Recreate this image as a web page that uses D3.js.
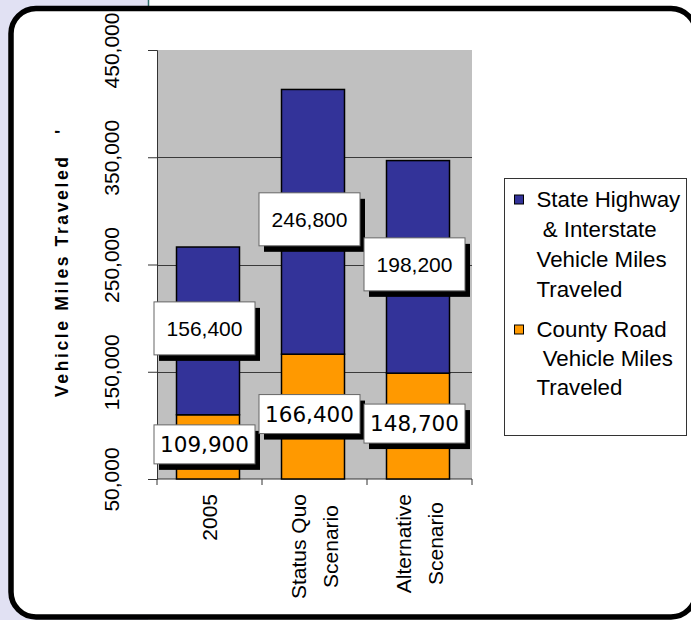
<!DOCTYPE html>
<html>
<head>
<meta charset="utf-8">
<script src="https://cdn.jsdelivr.net/npm/d3@7"></script>
<style>
  html, body { margin: 0; padding: 0; background: #ffffff; }
  svg { display: block; }
</style>
</head>
<body>
<svg id="chart" width="691" height="620"></svg>
<script>
// ---- data ----
const categories = ["2005", "Status Quo Scenario", "Alternative Scenario"];
const categoryLines = [["2005"], ["Status Quo", "Scenario"], ["Alternative", "Scenario"]];
const countyRoadVMT = [109900, 166400, 148700];
const stateHighwayVMT = [156400, 246800, 198200];
const yTicks = [50000, 150000, 250000, 350000, 450000];
const gridTicks = [150000, 250000, 350000];
const seriesNames = ["State Highway & Interstate Vehicle Miles Traveled", "County Road Vehicle Miles Traveled"];
const legendLines = [["State Highway", " & Interstate", "Vehicle Miles", "Traveled"], ["County Road", " Vehicle Miles", "Traveled"]];
const yTitle = "Vehicle Miles Traveled";

const colors = { highway: "#333399", county: "#FF9900", plot: "#C0C0C0", grid: "#3a3a3a" };
const svg = d3.select("#chart");

// ---- page background / frame ----
svg.append("rect").attr("x", 0).attr("y", 0).attr("width", 148).attr("height", 620).attr("fill", "#E1E1F3");
svg.append("line").attr("x1", 148.5).attr("x2", 148.5).attr("y1", 0).attr("y2", 8).attr("stroke", "#2F6F6A").attr("stroke-width", 1.5);
svg.append("rect").attr("x", 11).attr("y", 8.5).attr("width", 685).attr("height", 608.5)
  .attr("rx", 25).attr("ry", 25).attr("fill", "#ffffff").attr("stroke", "#000").attr("stroke-width", 5.5);

// ---- scales ----
const plot = { left: 157, right: 472, top: 50, bottom: 479 };
const y = d3.scaleLinear().domain([50000, 450000]).range([plot.bottom, plot.top]);
const x = d3.scaleBand().domain(categories).range([plot.left, plot.right]).paddingInner(0.4).paddingOuter(0.2);

// plot area
svg.append("rect").attr("x", plot.left).attr("y", plot.top).attr("width", plot.right - plot.left)
  .attr("height", plot.bottom - plot.top).attr("fill", colors.plot);

// gridlines
svg.append("g").selectAll("line").data(gridTicks).join("line")
  .attr("x1", plot.left).attr("x2", plot.right)
  .attr("y1", d => Math.round(y(d)) + 0.5).attr("y2", d => Math.round(y(d)) + 0.5)
  .attr("stroke", colors.grid).attr("stroke-width", 1);

// y axis
const yAxis = svg.append("g").attr("transform", `translate(${plot.left},0)`)
  .call(d3.axisLeft(y).tickValues(yTicks).tickSize(9).tickFormat(d3.format(",")));
yAxis.select(".domain").attr("stroke", "#333");
yAxis.selectAll(".tick line").attr("stroke", "#333");
yAxis.selectAll(".tick text")
  .attr("transform", "rotate(-90)")
  .attr("x", 0).attr("y", -38.5).attr("dy", 0)
  .attr("text-anchor", "middle")
  .attr("font-family", "Liberation Sans, Arial, sans-serif").attr("font-size", 21).attr("fill", "#000");

// bottom axis line and ticks at category boundaries
const step = x.step();
const boundaries = categories.map(c => x(c) + x.bandwidth() / 2 - step / 2).concat([x(categories[2]) + x.bandwidth() / 2 + step / 2]);
svg.append("line").attr("x1", plot.left).attr("x2", plot.right).attr("y1", plot.bottom).attr("y2", plot.bottom)
  .attr("stroke", "#333").attr("stroke-width", 1);
svg.append("g").selectAll("line").data(boundaries).join("line")
  .attr("x1", d => d).attr("x2", d => d).attr("y1", plot.bottom).attr("y2", plot.bottom + 6)
  .attr("stroke", "#333");

// ---- bars ----
const stackData = categories.map((c, i) => ({ cat: c, county: countyRoadVMT[i], highway: stateHighwayVMT[i] }));
const stack = d3.stack().keys(["county", "highway"]);
const series = stack(stackData);
const barShift = -1.5;
series.forEach(s => {
  svg.append("g").selectAll("rect").data(s).join("rect")
    .attr("x", d => x(d.data.cat) + barShift)
    .attr("width", x.bandwidth())
    .attr("y", d => y(d[1]))
    .attr("height", d => y(Math.max(d[0], 50000)) - y(d[1]))
    .attr("fill", s.key === "county" ? colors.county : colors.highway)
    .attr("stroke", "#000").attr("stroke-width", 1.5);
});

// ---- data labels ----
const labels = [];
series.forEach(s => s.forEach(d => {
  const lo = Math.max(d[0], 50000);
  labels.push({
    key: s.key,
    value: d[1] - d[0],
    cx: x(d.data.cat) + barShift + x.bandwidth() / 2 - 3.5,
    cy: (y(lo) + y(d[1])) / 2 - 2.5
  });
}));
const lg = svg.append("g");
labels.forEach(l => {
  const w = 101, h = l.key === "county" ? 39 : 53;
  lg.append("rect").attr("x", l.cx - w / 2 + 5).attr("y", l.cy - h / 2 + 6).attr("width", w).attr("height", h).attr("fill", "#000");
  lg.append("rect").attr("x", l.cx - w / 2).attr("y", l.cy - h / 2).attr("width", w).attr("height", h)
    .attr("fill", "#fff").attr("stroke", "#666").attr("stroke-width", 1);
  lg.append("text").attr("x", l.cx).attr("y", l.cy).attr("dy", "0.36em")
    .attr("text-anchor", "middle")
    .attr("font-family", l.key === "county" ? "DejaVu Sans, Verdana, sans-serif" : "Liberation Sans, Arial, sans-serif")
    .attr("font-size", l.key === "county" ? 21.5 : 21)
    .attr("fill", "#000")
    .text(d3.format(",")(l.value));
});

// ---- category labels ----
categories.forEach((c, i) => {
  const cx = x(c) + x.bandwidth() / 2;
  const lines = categoryLines[i];
  const g = svg.append("g").attr("transform", `translate(${cx},494) rotate(-90)`);
  const texts = lines.map((t, j) => g.append("text")
    .attr("font-family", "Liberation Sans, Arial, sans-serif").attr("font-size", 21)
    .attr("fill", "#000").attr("text-anchor", "middle")
    .attr("y", 7 - (lines.length - 1) * 16 + j * 32)
    .text(t));
  const maxW = d3.max(texts, t => t.node().getComputedTextLength());
  texts.forEach(t => t.attr("x", -maxW / 2));
});

// ---- y title ----
svg.append("text").attr("transform", "translate(67.5,397) rotate(-90)")
  .attr("font-family", "Liberation Sans, Arial, sans-serif").attr("font-weight", "bold").attr("font-size", 17.5)
  .attr("textLength", 240).attr("lengthAdjust", "spacing")
  .attr("fill", "#000").text(yTitle);
svg.append("text").attr("transform", "translate(67.5,134) rotate(-90)")
  .attr("font-family", "Liberation Sans, Arial, sans-serif").attr("font-weight", "bold").attr("font-size", 17.5)
  .attr("fill", "#000").text("'");

// ---- legend ----
svg.append("rect").attr("x", 504.5).attr("y", 178.5).attr("width", 182).attr("height", 257)
  .attr("fill", "#fff").attr("stroke", "#333").attr("stroke-width", 1);
const legendEntries = [
  { name: seriesNames[0], color: colors.highway, lines: legendLines[0], top: 206.5, lh: 30 },
  { name: seriesNames[1], color: colors.county, lines: legendLines[1], top: 336.5, lh: 29 }
];
legendEntries.forEach(e => {
  svg.append("rect").attr("x", 514.5).attr("y", e.top - 11.5).attr("width", 9).attr("height", 9)
    .attr("fill", e.color).attr("stroke", "#000").attr("stroke-width", 1);
  e.lines.forEach((t, j) => {
    svg.append("text").attr("x", 536.5).attr("y", e.top + j * e.lh)
      .attr("xml:space", "preserve").style("white-space", "pre")
      .attr("font-family", "Liberation Sans, Arial, sans-serif").attr("font-size", 22.3)
      .attr("fill", "#000").text(t);
  });
});
</script>
</body>
</html>
